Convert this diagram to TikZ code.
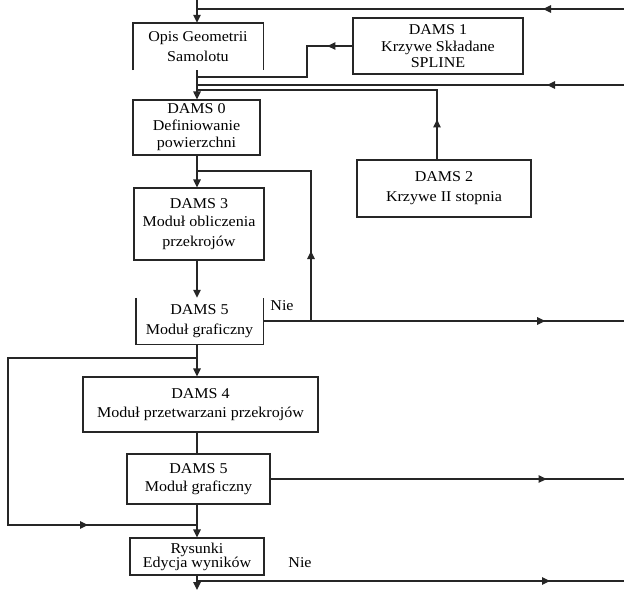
\documentclass[tikz,border=0pt]{standalone}
\usepackage{fontspec}
\setmainfont{Liberation Serif}[FakeStretch=1.07]
\usetikzlibrary{arrows.meta,decorations.markings}
\tikzset{
  ln/.style={draw=black!85,line width=1.2pt},
  pbox/.style={draw=black!85,line width=1.4pt,line join=miter},
  arr/.style={ln,-{Triangle[length=8pt,width=7.5pt]}},
  mid/.style={ln,postaction={decorate},decoration={markings,mark=at position #1pt with {\arrow{Triangle[length=8pt,width=7.5pt]}}}},
  box/.style={draw=black!85,line width=1.2pt,fill=white,inner sep=0pt,align=center,font=\fontsize{15}{18}\selectfont},
  obox/.style={inner sep=0pt,align=center,font=\fontsize{15}{18}\selectfont},
  lbl/.style={inner sep=0pt,font=\fontsize{15}{18}\selectfont}
}
\begin{document}
\begin{tikzpicture}[x=1pt,y=-1pt]
\useasboundingbox (0,0) rectangle (624,590);
\fill[white] (0,0) rectangle (624,590);
\coordinate (spine) at (197,0);
\coordinate (right) at (624,0);
% boxes
\node[obox,minimum width=130pt,minimum height=47pt] (opis) at (198,46.5) {Opis Geometrii\\[2pt]Samolotu};
\draw[pbox] (opis.south west) |- (opis.north) -| (opis.south east);
\node[box,minimum width=170pt,minimum height=56pt] (dams1) at (438,46) {DAMS 1\\[-1pt]Krzywe Składane\\[-2pt]SPLINE};
\node[box,minimum width=127pt,minimum height=55pt] (dams0) at (196.5,127.5) {DAMS 0\\[-1pt]Definiowanie\\[-1pt]powierzchni};
\node[box,minimum width=174pt,minimum height=57pt] (dams2) at (444,188.5) {DAMS 2\\[2pt]Krzywe II stopnia};
\node[box,minimum width=130pt,minimum height=72pt] (dams3) at (199,224) {DAMS 3\\[0pt]Moduł obliczenia\\[2pt]przekrojów};
\node[obox,minimum width=127pt,minimum height=46pt] (dams5a) at (199.5,321) {DAMS 5\\[2pt]Moduł graficzny};
\draw[pbox] (dams5a.north west) |- (dams5a.south) -| (dams5a.north east);
\node[box,minimum width=235pt,minimum height=55pt] (dams4) at (200.5,404.5) {DAMS 4\\[1pt]Moduł przetwarzani przekrojów};
\node[box,minimum width=143pt,minimum height=50pt] (dams5b) at (198.5,479) {DAMS 5\\[0pt]Moduł graficzny};
\node[box,minimum width=134pt,minimum height=37pt] (rys) at (197,556.5) {Rysunki\\[-4pt]Edycja wyników};
% labels
\node[lbl] (nie1) at (282,306) {Nie};
\node[lbl] (nie2) at (300,563) {Nie};
% connectors
\coordinate (topin) at (197,0);
\draw[arr] (topin) -- (opis.north -| spine);
\coordinate (rt1) at (624,9);
\draw[mid=81] (rt1) -- (rt1 -| spine);
\draw[arr] (opis.south -| spine) -- (dams0.north -| spine);
\coordinate (k1) at (307,77);
\draw[mid=25] (dams1.west) -| (k1) -- (k1 -| spine);
\coordinate (rt2) at (624,85);
\draw[mid=77] (rt2) -- (rt2 -| spine);
\coordinate (k2) at (437,90);
\draw[mid=40] (dams2.north -| k2) -- (k2) -- (k2 -| spine);
\draw[arr] (dams0.south -| spine) -- (dams3.north -| spine);
\coordinate (k3) at (311,171);
\draw[mid=70] (k3 |- dams5a.east) -- (k3) -- (k3 -| spine);
\draw[mid=282] (dams5a.east) -- (dams5a.east -| right);
\draw[arr] (dams3.south -| spine) -- (dams5a.north -| spine);
\draw[arr] (dams5a.south -| spine) -- (dams4.north -| spine);
\coordinate (k4) at (197,358);
\coordinate (k5) at (8,525);
\draw[mid=436] (k4) -| (k5) -- (k5 -| spine);
\draw[ln] (dams4.south -| spine) -- (dams5b.north -| spine);
\draw[mid=276] (dams5b.east) -- (dams5b.east -| right);
\draw[arr] (dams5b.south -| spine) -- (rys.north -| spine);
\coordinate (k6) at (197,581);
\draw[mid=353] (k6) -- (k6 -| right);
\coordinate (bot) at (197,590);
\draw[arr] (rys.south -| spine) -- (bot);
\end{tikzpicture}
\end{document}
